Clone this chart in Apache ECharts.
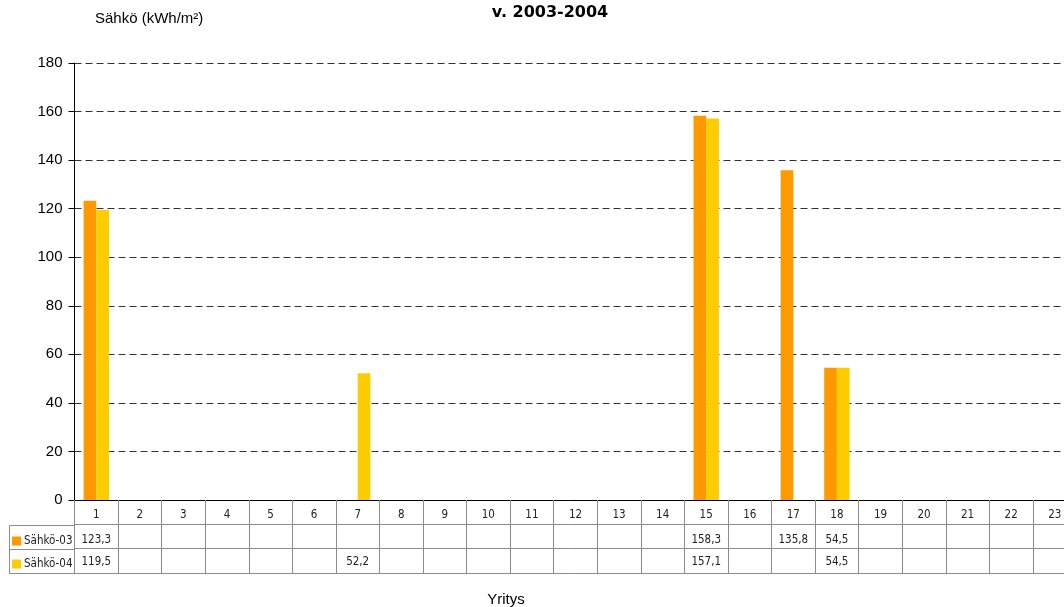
<!DOCTYPE html>
<html>
<head>
<meta charset="utf-8">
<script src="https://cdn.jsdelivr.net/npm/echarts@6/dist/echarts.min.js"></script>
<style>
html,body{margin:0;padding:0;background:#fff;}
#chart{width:1064px;height:607px;}
</style>
</head>
<body>
<div id="chart"></div>
<script>
const categories = ['1','2','3','4','5','6','7','8','9','10','11','12','13','14','15','16','17','18','19','20','21','22','23'];
const sahko03 = [123.3,null,null,null,null,null,null,null,null,null,null,null,null,null,158.3,null,135.8,54.5,null,null,null,null,null];
const sahko04 = [119.5,null,null,null,null,null,52.2,null,null,null,null,null,null,null,157.1,null,null,54.5,null,null,null,null,null];
const yTicks = [0,20,40,60,80,100,120,140,160,180];
const seriesNames = ['Sähkö-03','Sähkö-04'];
const colors = ['#FF9900','#FFCC00'];

const fmt = v => (v === null || v === undefined) ? '' : String(v).replace('.', ',');
const narrow = "'Liberation Sans Narrow','Arial Narrow','DejaVu Sans Condensed',sans-serif";
const sans = "'Liberation Sans',Arial,Helvetica,sans-serif";
const tableColor = '#8c8c8c';

const chart = echarts.init(document.getElementById('chart'), null, {renderer:'canvas'});

function tableAxis(data, offset, margin) {
  return {
    type:'category', data:data, position:'bottom', offset:offset, gridIndex:0,
    axisLine:{show:true, lineStyle:{color:tableColor, width:1}},
    axisTick:{show:false},
    axisLabel:{interval:0, margin:margin, fontSize:11.5, color:'#222', fontFamily:narrow},
    splitLine:{show:false}
  };
}

chart.setOption({
  animation:false,
  backgroundColor:'#fff',
  title:[
    {
      text:'v. 2003-2004', left:545, top:0, textAlign:'center',
      textStyle:{fontSize:16, fontWeight:'bold', color:'#000', fontFamily:"'DejaVu Sans',Verdana,sans-serif"}
    },
    {
      text:'Sähkö (kWh/m²)', left:90, top:6,
      textStyle:{fontSize:15, fontWeight:'normal', color:'#000', fontFamily:sans}
    }
  ],
  legend:{
    orient:'vertical', left:12, top:534, padding:0, itemWidth:9, itemHeight:9, itemGap:9,
    icon:'rect', selectedMode:false,
    data:seriesNames,
    textStyle:{fontSize:11.5, color:'#222', fontFamily:narrow, lineHeight:14, padding:[0,0,0,-2]}
  },
  grid:{left:74.5, top:63, width:1002, height:437, containLabel:false, outerBoundsMode:'none'},
  xAxis:[
    {
      type:'category', data:categories, gridIndex:0,
      axisLine:{show:true, lineStyle:{color:'#000', width:1}},
      axisTick:{show:true, interval:0, length:73, lineStyle:{color:tableColor, width:1}},
      axisLabel:{interval:0, margin:9, fontSize:11.5, color:'#222', fontFamily:narrow},
      splitLine:{show:false}
    },
    tableAxis(sahko03.map(fmt), 24.5, 10),
    tableAxis(sahko04.map(fmt), 48.5, 8),
    {
      type:'category', data:categories, position:'bottom', offset:73, gridIndex:0,
      axisLine:{show:true, lineStyle:{color:tableColor, width:1}},
      axisTick:{show:false}, axisLabel:{show:false}, splitLine:{show:false}
    }
  ],
  yAxis:{
    type:'value', min:0, max:180, interval:20,
    axisLine:{show:true, lineStyle:{color:'#000', width:1}},
    axisTick:{show:true, length:6, lineStyle:{color:'#000'}},
    axisLabel:{margin:12, fontSize:15, color:'#000', fontFamily:sans,
      formatter: v => yTicks.includes(v) ? String(v) : ''},
    splitLine:{show:true, lineStyle:{color:'#333', width:1, type:[7,4]}}
  },
  series:[
    {name:seriesNames[0], type:'bar', data:sahko03, barWidth:12.7, barGap:'0%', itemStyle:{color:colors[0]}, xAxisIndex:0},
    {name:seriesNames[1], type:'bar', data:sahko04, barWidth:12.7, barGap:'0%', itemStyle:{color:colors[1]}, xAxisIndex:0}
  ],
  graphic:[
    {type:'polyline', shape:{points:[[74.5,525.5],[9.5,525.5],[9.5,573.5],[74.5,573.5]]}, style:{stroke:tableColor, fill:null, lineWidth:1}, silent:true},
    {type:'line', shape:{x1:9.5, y1:549.5, x2:74.5, y2:549.5}, style:{stroke:tableColor, lineWidth:1}, silent:true},
    {type:'text', x:506, y:592, style:{text:'Yritys', fontSize:15, fill:'#000', fontFamily:sans, align:'center'}, silent:true}
  ]
});
</script>
</body>
</html>
